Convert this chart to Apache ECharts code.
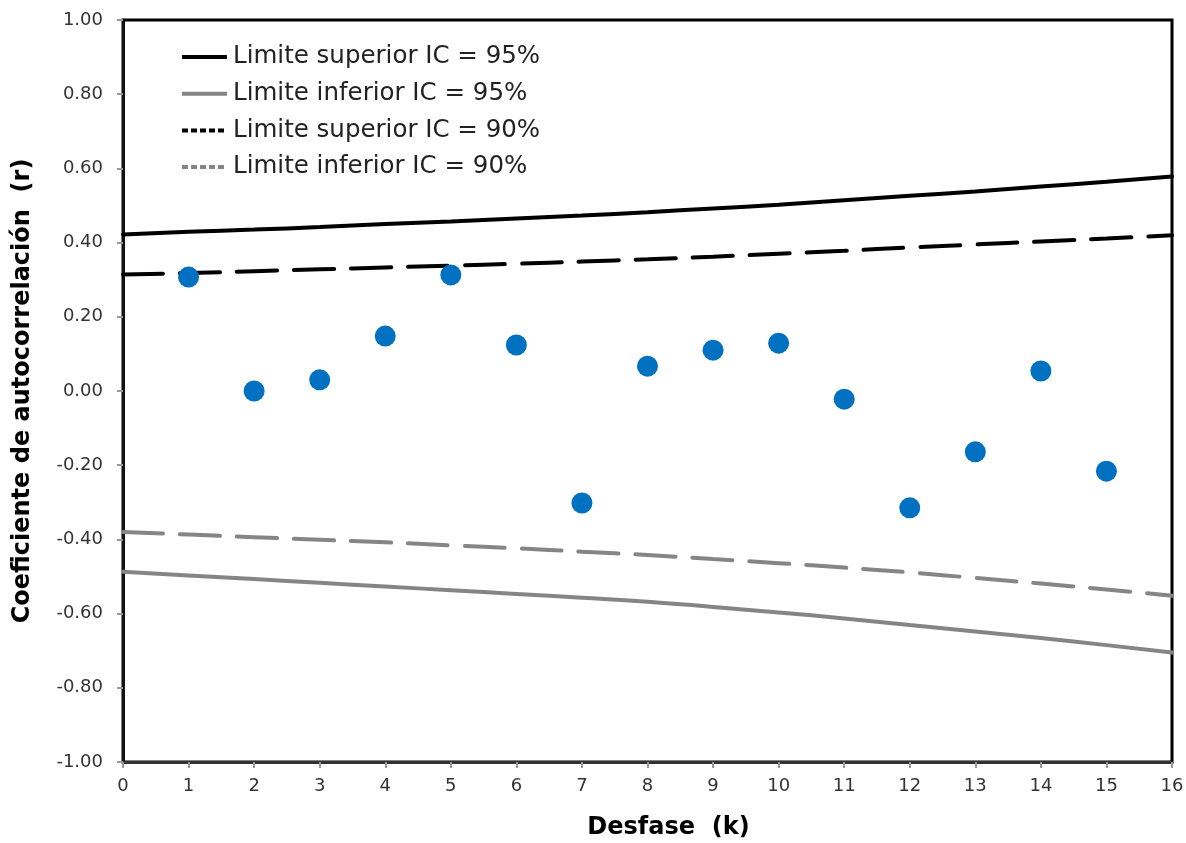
<!DOCTYPE html>
<html>
<head>
<meta charset="utf-8">
<script src="https://cdn.jsdelivr.net/npm/echarts@6/dist/echarts.min.js"></script>
<style>
  html, body { margin: 0; padding: 0; background: #fff; }
  #chart { width: 1186px; height: 843px; }
</style>
</head>
<body>
<div id="chart"></div>
<script>
// Lags (k) for the confidence limit curves
const lags = [0, 1, 2, 3, 4, 5, 6, 7, 8, 9, 10, 11, 12, 13, 14, 15, 16];
// Upper / lower confidence limits at 95% and 90%
const upper95 = [0.422, 0.429, 0.435, 0.442, 0.450, 0.457, 0.465, 0.473, 0.482, 0.492, 0.502, 0.514, 0.526, 0.538, 0.551, 0.564, 0.578];
const lower95 = [-0.487, -0.497, -0.507, -0.517, -0.527, -0.537, -0.547, -0.557, -0.568, -0.582, -0.597, -0.613, -0.631, -0.648, -0.666, -0.685, -0.705];
const upper90 = [0.314, 0.318, 0.323, 0.328, 0.333, 0.338, 0.343, 0.349, 0.355, 0.362, 0.370, 0.378, 0.387, 0.395, 0.403, 0.411, 0.420];
const lower90 = [-0.380, -0.387, -0.394, -0.401, -0.408, -0.416, -0.424, -0.433, -0.442, -0.453, -0.464, -0.476, -0.489, -0.504, -0.519, -0.535, -0.552];
// Autocorrelation coefficients r(k), k = 1..15
const acfLags = [1, 2, 3, 4, 5, 6, 7, 8, 9, 10, 11, 12, 13, 14, 15];
const acfValues = [0.307, 0.000, 0.030, 0.148, 0.313, 0.124, -0.302, 0.067, 0.110, 0.129, -0.022, -0.315, -0.164, 0.054, -0.216];

const seriesNames = [
  'Limite superior IC = 95%',
  'Limite inferior IC = 95%',
  'Limite superior IC = 90%',
  'Limite inferior IC = 90%'
];
const seriesColors = ['#000000', '#858585', '#000000', '#858585'];
const seriesDashed = [false, false, true, true];

const pair = (xs, ys) => xs.map((x, i) => [x, ys[i]]);
const FONT = 'DejaVu Sans';

const chart = echarts.init(document.getElementById('chart'), null, { renderer: 'canvas' });

const limitLine = (i, values) => ({
  name: seriesNames[i],
  type: 'line',
  data: pair(lags, values),
  symbol: 'none',
  smooth: true,
  silent: true,
  lineStyle: {
    color: seriesColors[i], width: 4,
    type: seriesDashed[i] ? [40, 17] : 'solid', cap: 'round'
  },
  z: 2
});

// Legend drawn as a small group: a line sample followed by its label
const legendRows = seriesNames.map((name, i) => {
  const y = 57 + i * 36.7;
  return [
    {
      type: 'line',
      shape: { x1: 182, y1: y, x2: 227, y2: y },
      style: {
        stroke: seriesColors[i], lineWidth: 4,
        lineDash: seriesDashed[i] ? [6, 3] : null
      }
    },
    {
      type: 'text',
      x: 233, y: y,
      style: {
        text: name, fill: '#222', font: '24.5px "DejaVu Sans"',
        textVerticalAlign: 'middle', verticalAlign: 'middle'
      }
    }
  ];
}).flat();

chart.setOption({
  animation: false,
  backgroundColor: '#ffffff',
  grid: {
    left: 123, right: 14, top: 20, bottom: 81,
    outerBoundsMode: 'none',
    containLabel: false,
    show: true, borderColor: '#000', borderWidth: 3, backgroundColor: 'transparent'
  },
  graphic: legendRows,
  xAxis: {
    type: 'value',
    min: 0, max: 16, interval: 1,
    name: 'Desfase  (k)',
    nameLocation: 'middle',
    nameGap: 54,
    nameTextStyle: {
      fontFamily: FONT, fontSize: 24, fontWeight: 'bold', color: '#000',
      padding: [0, 0, 0, 42]
    },
    axisLine: { show: true, onZero: false, lineStyle: { color: '#333', width: 3 } },
    axisTick: { show: true, length: 6, lineStyle: { color: '#999', width: 2 } },
    axisLabel: { margin: 15, fontFamily: FONT, fontSize: 18, color: '#333' },
    splitLine: { show: false }
  },
  yAxis: {
    type: 'value',
    min: -1, max: 1, interval: 0.2,
    name: 'Coeficiente de autocorrelación  (r)',
    nameLocation: 'middle',
    nameGap: 88,
    nameRotate: 90,
    nameTextStyle: { fontFamily: FONT, fontSize: 24, fontWeight: 'bold', color: '#000' },
    axisLine: { show: true, onZero: false, lineStyle: { color: '#111', width: 3 } },
    axisTick: { show: true, length: 6, lineStyle: { color: '#999', width: 2 } },
    axisLabel: {
      margin: 20, fontFamily: FONT, fontSize: 18, color: '#333',
      formatter: v => v.toFixed(2)
    },
    splitLine: { show: false }
  },
  series: [
    limitLine(0, upper95),
    limitLine(1, lower95),
    limitLine(2, upper90),
    limitLine(3, lower90),
    {
      name: 'r(k)',
      type: 'scatter',
      data: pair(acfLags, acfValues),
      symbol: 'circle',
      symbolSize: 21,
      itemStyle: { color: '#0070C0', opacity: 1 },
      z: 5
    }
  ]
});
</script>
</body>
</html>
